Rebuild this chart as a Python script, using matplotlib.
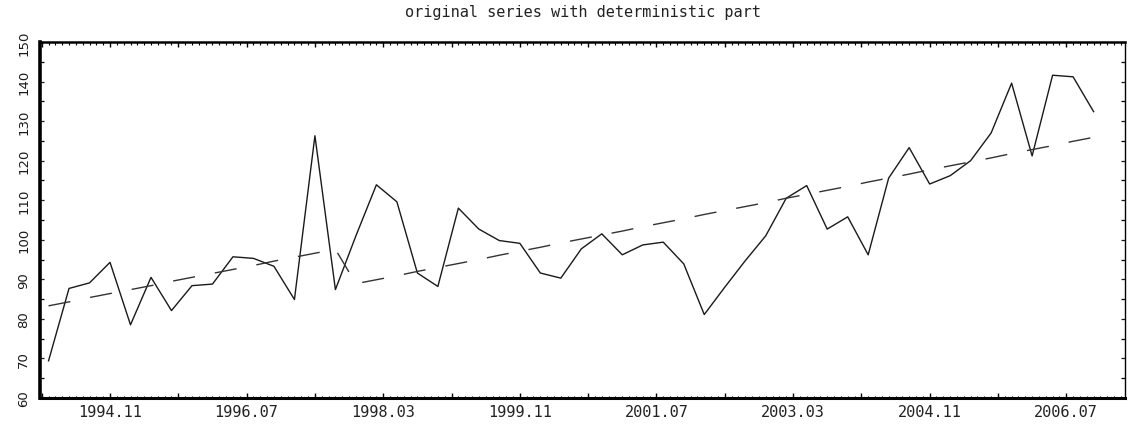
import matplotlib
matplotlib.use("Agg")
import matplotlib.pyplot as plt
import numpy as np
from matplotlib.ticker import MultipleLocator, NullFormatter

# quarterly observations, first one in 1994.02
start_year, start_month = 1994, 2
series = [69.4, 87.7, 89.1, 94.3, 78.5, 90.5, 82.1, 88.4, 88.8, 95.7,
          95.3, 93.3, 84.9, 126.3, 87.4, 101.0, 113.9, 109.6, 91.6, 88.2,
          108.0, 102.7, 99.8, 99.1, 91.6, 90.3, 97.7, 101.5, 96.2, 98.7,
          99.4, 93.9, 81.1, 88.0, 94.7, 101.0, 110.5, 113.7, 102.7, 105.8,
          96.2, 115.6, 123.3, 114.1, 116.2, 120.0, 127.0, 139.6, 121.2, 141.6,
          141.2, 132.4]
deterministic = [83.3, 84.3, 85.4, 86.4, 87.4, 88.4, 89.5, 90.5, 91.5, 92.5,
                 93.5, 94.6, 95.6, 96.6, 97.6, 88.9, 89.9, 90.9, 92.0, 93.0,
                 94.0, 95.0, 96.1, 97.1, 98.1, 99.2, 100.2, 101.2, 102.2, 103.3,
                 104.3, 105.3, 106.4, 107.4, 108.4, 109.4, 110.5, 111.5, 112.5, 113.5,
                 114.6, 115.6, 116.6, 117.7, 118.7, 119.7, 120.7, 121.8, 122.8, 123.8,
                 124.9, 125.9]
tick_labels = ['1994.11', '1996.07', '1998.03', '1999.11',
               '2001.07', '2003.03', '2004.11', '2006.07']

# x axis in months since 1994.01
def to_month(label):
    y, m = label.split('.')
    return (int(y) - 1994) * 12 + int(m) - 1

t = (start_year - 1994) * 12 + (start_month - 1) + 3 * np.arange(len(series))

fig = plt.figure(figsize=(11.35, 4.27), dpi=100)
ax = fig.add_axes([40 / 1135, 28 / 427, 1085 / 1135, 356 / 427])

ax.plot(t, series, color='#1a1a1a', lw=1.0)
ax.plot(t, deterministic, color='#333333', lw=1.0, dashes=(16, 14.5))

ax.set_xlim(-0.25, 158.6)
ax.set_ylim(60, 150)

# ticks
label_pos = [to_month(s) for s in tick_labels]
ax.xaxis.set_major_locator(MultipleLocator(10))
ax.xaxis.set_minor_locator(MultipleLocator(1))
ax.xaxis.set_major_formatter(NullFormatter())
ax.yaxis.set_major_locator(MultipleLocator(10))
ax.yaxis.set_minor_locator(MultipleLocator(5))

ax.tick_params(axis='x', which='major', direction='in', length=3.8, width=1,
               top=True, bottom=True, labelbottom=False)
ax.tick_params(axis='x', which='minor', direction='in', length=1.8, width=0.8,
               top=True, bottom=True)
ax.tick_params(axis='y', which='both', direction='in', length=2.6, width=0.9,
               left=True, right=True)
ax.tick_params(axis='y', which='major', labelsize=9.5, pad=7, colors='#1a1a1a')

for s, p in zip(tick_labels, label_pos):
    ax.text(p, -0.018, s, transform=ax.get_xaxis_transform(), ha='center', va='top',
            fontsize=11, family='DejaVu Sans Mono', color='#222222')

for lab in ax.get_yticklabels():
    lab.set_rotation(90)
    lab.set_va('center')
    lab.set_family(['Liberation Sans Narrow', 'DejaVu Sans'])

for side, w in [('left', 2.6), ('bottom', 2.2), ('top', 1.8), ('right', 1.0)]:
    ax.spines[side].set_linewidth(w)
    ax.spines[side].set_color('black')

fig.text((40 + 1125) / 2 / 1135, 1 - 13 / 427, 'original series with deterministic part',
         ha='center', va='center', fontsize=11, family='DejaVu Sans Mono', color='#222222')

fig.savefig('out.png', dpi=100)
